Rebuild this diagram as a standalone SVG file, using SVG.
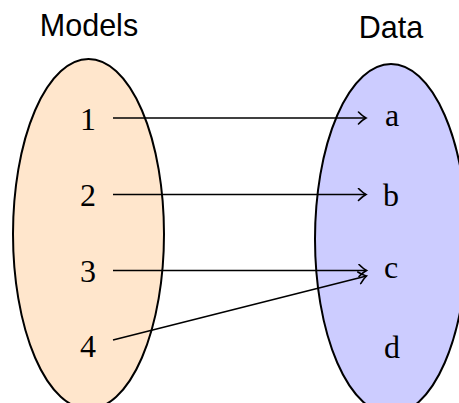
<svg xmlns="http://www.w3.org/2000/svg" width="459" height="403" viewBox="0 0 459 403">
  <style>
    .title { font-family: "Liberation Sans", Arial, sans-serif; font-size: 30.5px; fill: #000; text-anchor: middle; }
    .el { font-family: "Liberation Serif", "Times New Roman", serif; font-size: 32px; fill: #000; text-anchor: middle; }
    .set { stroke: #000; stroke-width: 2; }
    .conn { stroke: #000; stroke-width: 1.6; fill: none; marker-end: url(#to); }
  </style>
  <defs>
    <marker id="to" markerUnits="userSpaceOnUse" markerWidth="12" markerHeight="14" viewBox="-9 -7 11 14" refX="0" refY="0" orient="auto">
      <path d="M -7.5 -6 Q -3 -1.5 0 0 Q -3 1.5 -7.5 6" fill="none" stroke="#000" stroke-width="1.6" stroke-linecap="round"/>
    </marker>
  </defs>
  <rect width="459" height="403" fill="#fff"/>
  <g id="models-set">
    <ellipse class="set" cx="88.5" cy="234" rx="75.5" ry="175" fill="#FFE6CC"/>
  </g>
  <g id="data-set">
    <ellipse class="set" cx="391" cy="239" rx="76" ry="175" fill="#CCCCFF"/>
  </g>
  <g id="models-label"><text class="title" x="89" y="35.5">Models</text></g>
  <g id="data-label"><text class="title" x="391" y="37.5">Data</text></g>
  <g id="m1"><text class="el" x="88" y="129.5">1</text></g>
  <g id="m2"><text class="el" x="88" y="205.5">2</text></g>
  <g id="m3"><text class="el" x="88" y="281.5">3</text></g>
  <g id="m4"><text class="el" x="88" y="357">4</text></g>
  <g id="da"><text class="el" x="392" y="126">a</text></g>
  <g id="db"><text class="el" x="391" y="205.5">b</text></g>
  <g id="dc"><text class="el" x="391" y="277.5">c</text></g>
  <g id="dd"><text class="el" x="392" y="358">d</text></g>
  <g id="connectors">
    <line class="conn" x1="113" y1="118" x2="366" y2="118"/>
    <line class="conn" x1="113" y1="194.5" x2="366" y2="194.5"/>
    <line class="conn" x1="113" y1="270.5" x2="366.5" y2="270.5"/>
    <line class="conn" x1="113" y1="340" x2="366.5" y2="276"/>
  </g>
</svg>
